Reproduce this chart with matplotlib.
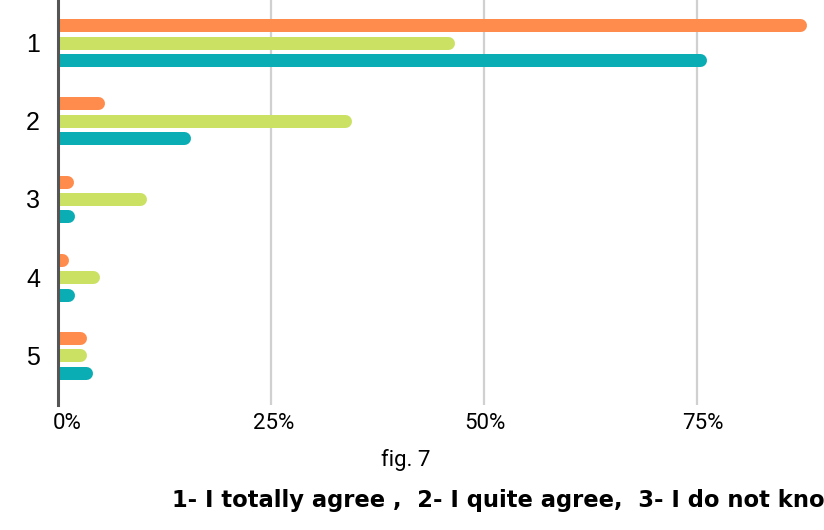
import matplotlib
matplotlib.use("Agg")
import matplotlib.pyplot as plt
import matplotlib.transforms as mtransforms
import numpy as np

# survey answers, share of respondents per answer (in %)
answers = ["1", "2", "3", "4", "5"]
series_orange = [87.8, 5.4, 1.8, 1.2, 3.4]
series_green = [46.5, 34.5, 10.4, 4.9, 3.4]
series_teal = [76.1, 15.5, 1.9, 1.9, 4.0]
x_ticks = [0, 25, 50, 75]
x_labels = ["0%", "25%", "50%", "75%"]

ORANGE = "#FF8C4C"
GREEN = "#CBE164"
TEAL = "#0BADB4"
SANS = ["Roboto", "DejaVu Sans"]

fig = plt.figure(figsize=(8.24, 5.30), dpi=100)
ax = fig.add_axes([58 / 824, 1 - 405 / 530, 1 - 58 / 824, 405 / 530])

xmax = 89.9
ax.set_xlim(0, xmax)
ax.set_ylim(4.64, -0.55)

# bars are thick lines with round caps; pull the end back by the cap radius
bar_px = 13
px_per_unit = (1 - 58 / 824) * 824 / xmax
cap = bar_px / 2 / px_per_unit
lw = bar_px * 72 / 100

y = np.arange(len(answers))
offset = 0.224
for vals, col, dy in [(series_orange, ORANGE, -offset),
                      (series_green, GREEN, 0),
                      (series_teal, TEAL, offset)]:
    for yi, v in zip(y, vals):
        ax.plot([0, max(v - cap, 0)], [yi + dy, yi + dy], color=col,
                lw=lw, solid_capstyle="round", zorder=3)

# grid + zero axis
for t in x_ticks[1:]:
    ax.axvline(t, color="#D0D0D0", lw=1.6, zorder=1)
ax.axvline(0, color="#555555", lw=2.2, zorder=4, clip_on=False)

for s in ax.spines.values():
    s.set_visible(False)
ax.set_yticks(y)
ax.set_yticklabels(answers, fontsize=18, family=["Liberation Sans", "DejaVu Sans"])
ax.set_xticks(x_ticks)
ax.set_xticklabels(x_labels, fontsize=16, family=SANS)
ax.tick_params(axis="y", length=0, pad=13)
ax.tick_params(axis="x", length=0, pad=6)

# small horizontal nudges for the percent labels
for dx, lab in zip([9, 3, 1, 6], ax.get_xticklabels()):
    lab.set_transform(lab.get_transform() +
                      mtransforms.ScaledTranslation(dx / 100, 0, fig.dpi_scale_trans))

fig.text(406 / 824, 1 - 460 / 530, "fig. 7", ha="center", va="center",
         fontsize=16, family=SANS)
fig.text(172 / 824, 1 - 501 / 530,
         "1- I totally agree ,  2- I quite agree,  3- I do not know",
         ha="left", va="center", fontsize=16.3, fontweight="bold",
         family="DejaVu Sans")

fig.savefig("out.png", dpi=100)
